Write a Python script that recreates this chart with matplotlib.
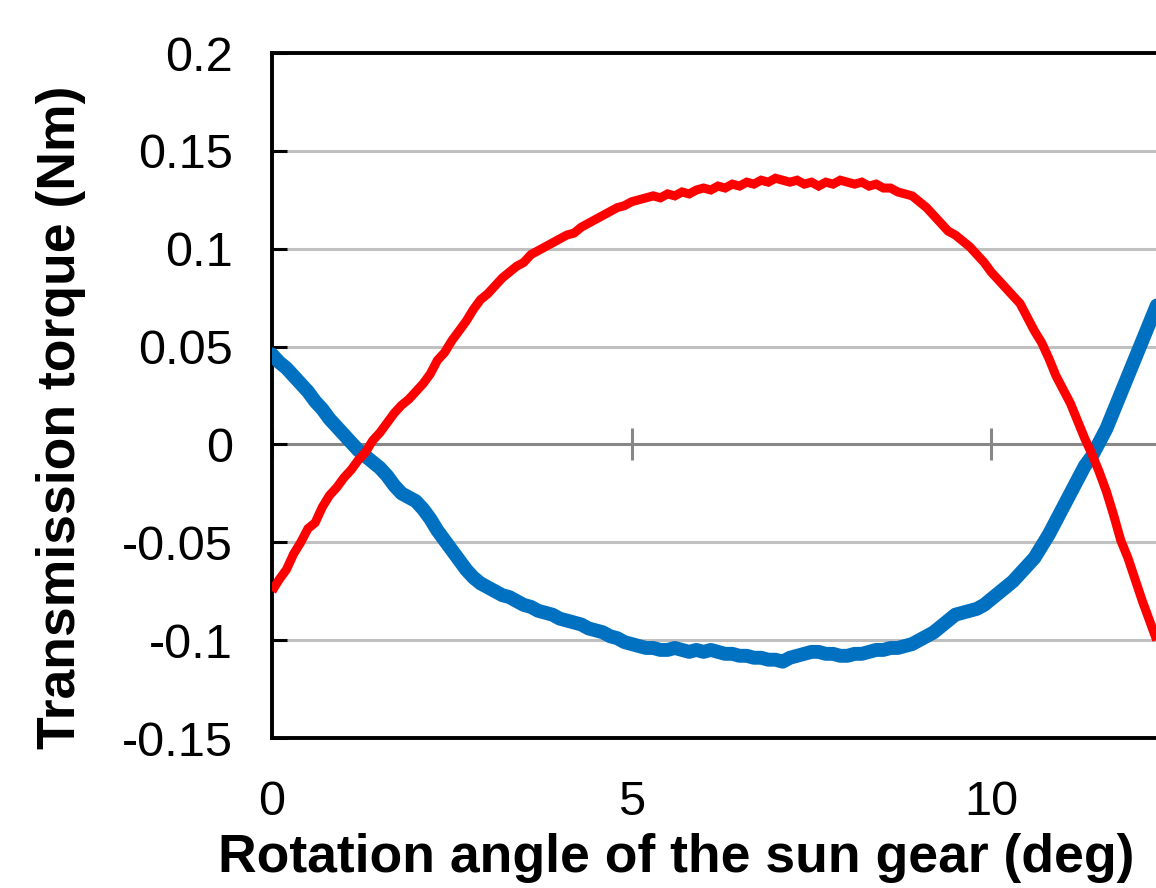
import matplotlib
matplotlib.use("Agg")
import matplotlib.pyplot as plt
import numpy as np

plt.rcParams['font.family'] = ['Liberation Sans', 'DejaVu Sans']

# Rotation angle of the sun gear (deg)
angle = [round(i * 0.1, 1) for i in range(124)]

red_torque = [
    -0.075, -0.069, -0.064, -0.056, -0.050, -0.043, -0.040, -0.032, -0.026, -0.022,
    -0.017, -0.013, -0.008, -0.004, 0.002, 0.006, 0.011, 0.016, 0.020, 0.023,
    0.027, 0.031, 0.036, 0.043, 0.047, 0.053, 0.058, 0.063, 0.069, 0.074,
    0.077, 0.081, 0.085, 0.088, 0.091, 0.093, 0.097, 0.099, 0.101, 0.103,
    0.105, 0.107, 0.108, 0.111, 0.113, 0.115, 0.117, 0.119, 0.121, 0.122,
    0.124, 0.125, 0.126, 0.127, 0.126, 0.128, 0.127, 0.129, 0.128, 0.130,
    0.131, 0.130, 0.132, 0.131, 0.133, 0.132, 0.134, 0.133, 0.135, 0.134,
    0.136, 0.135, 0.134, 0.135, 0.133, 0.134, 0.132, 0.134, 0.133, 0.135,
    0.134, 0.133, 0.134, 0.132, 0.133, 0.131, 0.131, 0.129, 0.128, 0.127,
    0.124, 0.121, 0.117, 0.113, 0.109, 0.107, 0.104, 0.101, 0.097, 0.093,
    0.088, 0.084, 0.080, 0.076, 0.072, 0.065, 0.058, 0.052, 0.044, 0.035,
    0.028, 0.021, 0.012, 0.003, -0.005, -0.014, -0.024, -0.036, -0.049, -0.058,
    -0.069, -0.080, -0.090, -0.100,
]

blue_torque = [
    0.046, 0.042, 0.039, 0.035, 0.031, 0.027, 0.022, 0.018, 0.013, 0.009,
    0.005, 0.001, -0.003, -0.006, -0.009, -0.012, -0.016, -0.021, -0.025, -0.027,
    -0.029, -0.033, -0.038, -0.044, -0.049, -0.054, -0.059, -0.064, -0.068, -0.071,
    -0.073, -0.075, -0.077, -0.078, -0.080, -0.082, -0.083, -0.085, -0.086, -0.087,
    -0.089, -0.090, -0.091, -0.092, -0.094, -0.095, -0.096, -0.098, -0.099, -0.101,
    -0.102, -0.103, -0.104, -0.104, -0.105, -0.105, -0.104, -0.105, -0.106, -0.105,
    -0.106, -0.105, -0.106, -0.107, -0.107, -0.108, -0.108, -0.109, -0.109, -0.110,
    -0.110, -0.111, -0.109, -0.108, -0.107, -0.106, -0.106, -0.107, -0.107, -0.108,
    -0.108, -0.107, -0.107, -0.106, -0.105, -0.105, -0.104, -0.104, -0.103, -0.102,
    -0.100, -0.098, -0.096, -0.093, -0.090, -0.087, -0.086, -0.085, -0.084, -0.082,
    -0.079, -0.076, -0.073, -0.070, -0.066, -0.062, -0.058, -0.052, -0.046, -0.039,
    -0.032, -0.025, -0.018, -0.011, -0.006, 0.001, 0.008, 0.017, 0.026, 0.035,
    0.044, 0.053, 0.062, 0.071,
]

x_ticks = [0, 5, 10]
y_ticks = [-0.15, -0.1, -0.05, 0, 0.05, 0.1, 0.15, 0.2]
y_tick_labels = ['-0.15', '-0.1', '-0.05', '0', '0.05', '0.1', '0.15', '0.2']

fig = plt.figure(figsize=(11.56, 8.88), dpi=100)
ax = fig.add_axes([272 / 1156, 1 - 738 / 888, 1 - 272 / 1156, (738 - 53) / 888])

ax.set_xlim(0, 12.29)
ax.set_ylim(-0.15, 0.2)

# gridlines
for yv in y_ticks:
    if yv not in (0, -0.15, 0.2):
        ax.axhline(yv, color='#c0c0c0', lw=2.2, zorder=1)
# zero axis line with crossing tick marks
ax.axhline(0, color='#878787', lw=2.2, zorder=1.5)
ax.plot(x_ticks, [0] * len(x_ticks), linestyle='none', marker='|',
        markersize=23, markeredgewidth=2.2, color='#878787', zorder=1.5, clip_on=False)

ax.plot(angle, blue_torque, color='#0070C0', lw=10, zorder=3,
        solid_capstyle='round', solid_joinstyle='round')
ax.plot(angle, red_torque, color='#FF0000', lw=6.5, zorder=4,
        solid_capstyle='butt', solid_joinstyle='miter')

ax.set_yticks(y_ticks)
ax.set_yticklabels(y_tick_labels)
ax.set_xticks(x_ticks)
ax.set_xticklabels([str(v) for v in x_ticks])

ax.tick_params(axis='y', direction='in', length=11, width=2.2, color='black',
               labelsize=35, pad=28)
ax.tick_params(axis='x', length=0, labelsize=35, pad=30)

for side in ['left', 'top', 'bottom']:
    ax.spines[side].set_linewidth(2.8)
    ax.spines[side].set_color('black')
ax.spines['right'].set_visible(False)

ax.set_xlabel('Rotation angle of the sun gear (deg)', fontsize=38.5, fontweight='bold')
ax.xaxis.set_label_coords((676 - 272) / 884, -(858 - 738) / 685, transform=ax.transAxes)
ax.xaxis.label.set_va('center')
ax.set_ylabel('Transmission torque (Nm)', fontsize=38.5, fontweight='bold')
ax.yaxis.set_label_coords(-(272 - 61) / 884, (738 - 417) / 685, transform=ax.transAxes)
ax.yaxis.label.set_va('center')

fig.savefig('out.png', dpi=100)
